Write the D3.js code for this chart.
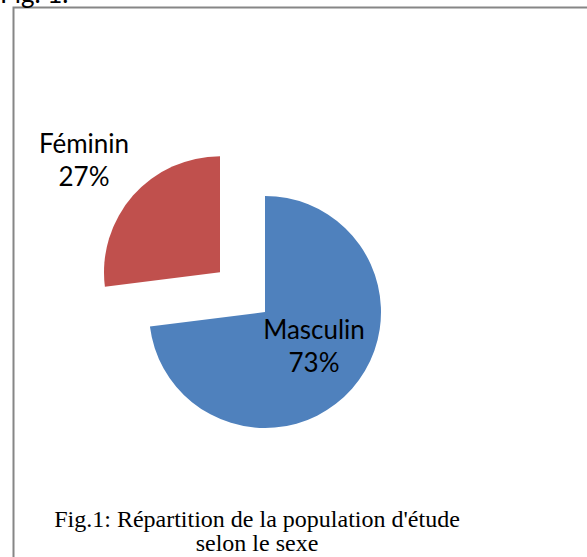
<!DOCTYPE html>
<html>
<head>
<meta charset="utf-8">
<script src="https://cdn.jsdelivr.net/npm/d3@7"></script>
<style>
  body { margin: 0; background: #fff; }
</style>
</head>
<body>
<script>
// DATA
var categories = ['Masculin', 'Féminin'];
var values = [73, 27];
var exploded = [false, true];
var caption = ["Fig.1: Répartition de la population d'étude", 'selon le sexe'];

// SETTINGS
var width = 587, height = 557;
var colors = { Masculin: '#4F81BD', 'Féminin': '#C0504D' };
var center = { x: 265, y: 312 };
var radius = 116;
var explode = 60;
// label anchor, relative to pie centre
var labelPos = { Masculin: [49, 27], 'Féminin': [-181, -159] };

var svg = d3.select('body').append('svg')
  .attr('width', width)
  .attr('height', height);

// FRAME
svg.append('path')
  .attr('d', 'M13.5,' + height + 'V7.5H' + width)
  .attr('fill', 'none')
  .attr('stroke', '#868686')
  .attr('stroke-width', 2);

// CUT-OFF HEADING ABOVE FRAME
svg.append('text')
  .attr('x', 0).attr('y', 3)
  .attr('font-family', 'Lato, sans-serif')
  .attr('font-size', 26)
  .text('Fig. 1.');

// PIE
var pie = d3.pie().sort(null).value(d => d.value);
var arcs = pie(categories.map((c, i) => ({ name: c, value: values[i], exploded: exploded[i] })));
var arc = d3.arc().innerRadius(0).outerRadius(radius);

var g = svg.append('g').attr('transform', 'translate(' + center.x + ',' + center.y + ')');

g.selectAll('path.slice').data(arcs).enter().append('path')
  .attr('class', 'slice')
  .attr('d', arc)
  .attr('fill', d => colors[d.data.name])
  .attr('transform', d => {
    if (!d.data.exploded) return null;
    var a = (d.startAngle + d.endAngle) / 2;
    return 'translate(' + (Math.sin(a) * explode) + ',' + (-Math.cos(a) * explode) + ')';
  });

// LABELS
var labels = g.selectAll('text.label').data(arcs).enter().append('text')
  .attr('class', 'label')
  .attr('text-anchor', 'middle')
  .attr('font-family', 'Lato, sans-serif')
  .attr('font-size', 26)
  .attr('fill', '#000');

labels.append('tspan')
  .attr('x', d => labelPos[d.data.name][0])
  .attr('y', d => labelPos[d.data.name][1])
  .text(d => d.data.name);

labels.append('tspan')
  .attr('x', d => labelPos[d.data.name][0])
  .attr('y', d => labelPos[d.data.name][1] + 33)
  .text(d => d.data.value + '%');

// CAPTION
svg.append('text')
  .attr('text-anchor', 'middle')
  .attr('font-family', 'Liberation Serif, Times New Roman, serif')
  .attr('font-size', 24)
  .selectAll('tspan').data(caption).enter().append('tspan')
  .attr('x', 257)
  .attr('y', (d, i) => 527 + i * 24)
  .text(d => d);
</script>
</body>
</html>
